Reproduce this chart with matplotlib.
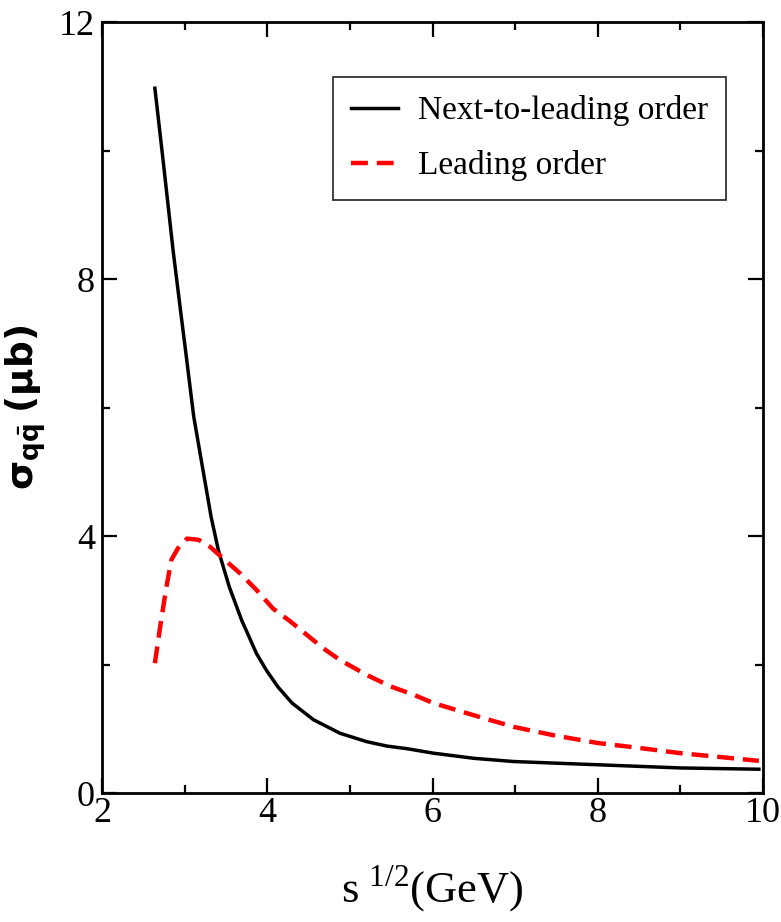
"""
Total q-qbar cross section vs centre-of-mass energy, NLO vs LO
"""
import matplotlib
matplotlib.use("Agg")
import matplotlib.pyplot as plt
from matplotlib.ticker import MultipleLocator

plt.rcParams['font.family'] = ['Liberation Serif', 'DejaVu Serif']
plt.rcParams['mathtext.fontset'] = 'custom'
plt.rcParams['mathtext.rm'] = 'Liberation Serif'
plt.rcParams['mathtext.bf'] = 'DejaVu Sans:bold'

# next-to-leading order
nlo_x = [2.64, 2.74, 2.86, 2.91, 2.96, 3.01, 3.06, 3.11, 3.18, 3.25,
         3.32, 3.41, 3.54, 3.69, 3.87, 3.99, 4.13, 4.30, 4.56, 4.88, 5.20,
         5.45, 5.69, 6.01, 6.50, 6.98, 7.99, 9.00, 9.95]
nlo_y = [10.97, 9.84, 8.45, 7.93, 7.41, 6.90, 6.38, 5.86, 5.34, 4.82,
         4.30, 3.77, 3.21, 2.69, 2.17, 1.91, 1.65, 1.40, 1.14, 0.93, 0.80,
         0.73, 0.69, 0.62, 0.54, 0.49, 0.44, 0.39, 0.37]

# leading order
lo_x = [2.64, 2.71, 2.78, 2.84, 2.92, 3.03, 3.17, 3.31, 3.51, 3.67, 3.87,
        4.07, 4.28, 4.48, 4.68, 4.88, 5.20, 5.49, 5.77, 6.01, 6.50, 6.98,
        7.46, 7.99, 8.51, 9.00, 9.48, 9.95]
lo_y = [2.02, 2.64, 3.21, 3.63, 3.81, 3.96, 3.94, 3.83, 3.60, 3.42, 3.16,
        2.87, 2.67, 2.46, 2.25, 2.07, 1.84, 1.66, 1.53, 1.40, 1.21, 1.03,
        0.90, 0.78, 0.70, 0.62, 0.56, 0.50]


def main():
    fig = plt.figure(figsize=(7.81, 9.22), dpi=100)
    ax = fig.add_axes([102 / 781, 1 - 793 / 922, 661 / 781, 771 / 922])

    ax.plot(nlo_x, nlo_y, color='black', lw=2.5, label='Next-to-leading order')
    ax.plot(lo_x, lo_y, color='red', lw=3.2, dashes=(3.8, 2.0),
            label='Leading order')

    ax.set_xlim(2, 10)
    ax.set_ylim(0, 12)
    ax.xaxis.set_major_locator(MultipleLocator(2))
    ax.xaxis.set_minor_locator(MultipleLocator(1))
    ax.yaxis.set_major_locator(MultipleLocator(4))
    ax.yaxis.set_minor_locator(MultipleLocator(2))
    ax.tick_params(which='both', direction='in', top=True, right=True,
                   width=1.6, labelsize=26)
    ax.tick_params(which='major', length=11)
    ax.tick_params(which='minor', length=6)
    ax.tick_params(axis='x', pad=3)
    ax.tick_params(axis='y', pad=5)
    for sp in ax.spines.values():
        sp.set_linewidth(2.0)

    ax.set_xlabel(r'$\mathregular{s}^{\ 1/2}$(GeV)', fontsize=32, labelpad=24)
    ax.set_ylabel(r'$\mathbf{\sigma_{q\bar{q}}}$ $\mathbf{(\mu b)}$',
                  fontsize=27, labelpad=8)

    leg = ax.legend(loc='upper right', bbox_to_anchor=(726 / 781, 1 - 77 / 922),
                    bbox_transform=fig.transFigure, fontsize=24,
                    fancybox=False, framealpha=1, edgecolor='#333333',
                    handlelength=1.4, handletextpad=0.6, labelspacing=0.72,
                    borderpad=0.55, borderaxespad=0)
    leg.get_frame().set_linewidth(1.3)

    fig.savefig('out.png', dpi=100)


if __name__ == '__main__':
    main()
